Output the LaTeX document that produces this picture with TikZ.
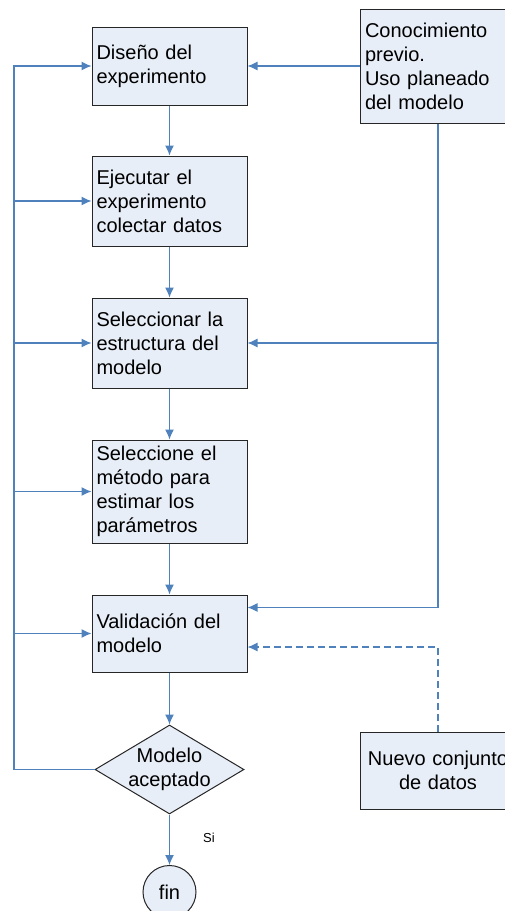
\documentclass[tikz,border=0pt]{standalone}
\usepackage{fontspec}
\setmainfont{Liberation Sans}
\usetikzlibrary{shapes.geometric,arrows.meta}
\definecolor{boxfill}{RGB}{232,238,247}
\definecolor{flowblue}{RGB}{79,129,189}

\begin{document}
\begin{tikzpicture}[x=1pt,y=-1pt]
\tikzstyle{box}=[draw=black!85,fill=boxfill,line width=1pt,text width=146pt,inner xsep=4.5pt,inner ysep=0pt,align=left,font=\fontsize{20}{24}\selectfont]
\tikzstyle{decision}=[draw=black!85,fill=boxfill,line width=1pt,diamond,minimum width=149pt,minimum height=89pt,inner sep=-9pt,align=center,font=\fontsize{20}{24}\selectfont]
\tikzstyle{terminal}=[draw=black!85,fill=boxfill,line width=1pt,circle,minimum size=53pt,inner sep=0pt,font=\fontsize{20}{24}\selectfont]
\tikzstyle{flow}=[draw=flowblue,line width=1.2pt,-{Latex[length=10pt,width=9pt]}]

	\useasboundingbox (0,0) rectangle (505,911);

	% main column
	\node (design) [box,minimum height=78pt] at (169.5,66) {Dise\~no del\\experimento};
	\node (run) [box,minimum height=90pt] at (169.5,201) {Ejecutar el\\experimento\\colectar datos};
	\node (struct) [box,minimum height=90pt] at (169.5,343) {Seleccionar la\\estructura del\\modelo};
	\node (method) [box,minimum height=103pt] at (169.5,491.5) {Seleccione el\\m\'etodo para\\estimar los\\par\'ametros};
	\node (valid) [box,minimum height=77pt] at (169.5,633.5) {Validaci\'on del\\modelo};
	\node (accept) [decision] at (169.5,769.5) {Modelo\\aceptado};
	\node (fin) [terminal] at (169.5,892) {fin};
	\node (yes) [font=\fontsize{13}{15}\selectfont] at (209,838) {Si};

	% right column
	\node (prior) [box,minimum height=114pt] at (438,66) {Conocimiento\\previo.\\Uso planeado\\del modelo};
	\node (newdata) [box,align=center,minimum height=77pt] at (438,770.5) {Nuevo conjunto\\de datos};

	\coordinate (rail) at (14,0);
	\coordinate (in5) at ([yshift=26pt]valid.east);
	\coordinate (in5b) at ([yshift=-13.5pt]valid.east);

	\draw [flow] (design.south) -- (run.north);
	\draw [flow] (run.south) -- (struct.north);
	\draw [flow] (struct.south) -- (method.north);
	\draw [flow] (method.south) -- (valid.north);
	\draw [flow] (valid.south) -- (accept.north);
	\draw [flow] (accept.south) -- (fin.north);

	% feedback on the left
	\draw [flow] (accept.west) -- (rail |- accept.west) -- (rail |- design.west) -- (design.west);
	\foreach \b in {run,struct,method,valid}
		\draw [flow] (rail |- \b.west) -- (\b.west);

	% prior knowledge and new data
	\draw [flow] (prior.west) -- (design.east);
	\draw [flow] (prior.south) |- (in5);
	\draw [flow] (prior.south |- struct.east) -- (struct.east);
	\draw [flow,dash pattern=on 7pt off 4pt] (newdata.north) |- (in5b);

\end{tikzpicture}
\end{document}
